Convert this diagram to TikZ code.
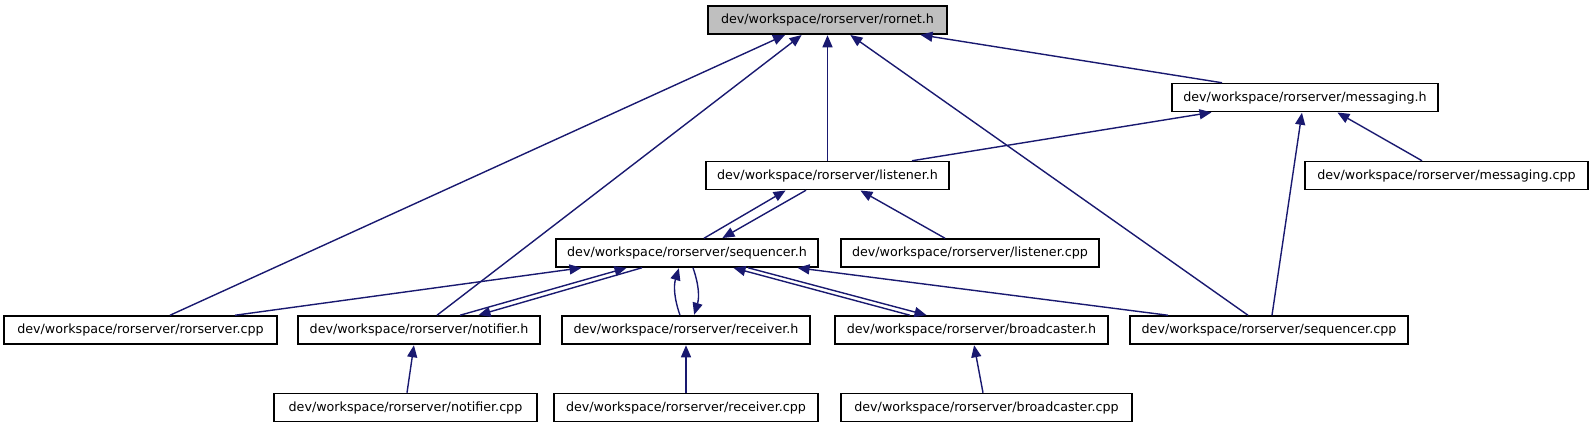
\documentclass[tikz,border=0pt]{standalone}
\usepackage{fontspec}
\setmainfont{DejaVu Sans}
\usetikzlibrary{arrows.meta}
\definecolor{edgeblue}{HTML}{191970}
\definecolor{rootgray}{HTML}{BFBFBF}
\begin{document}
\begin{tikzpicture}[x=1pt,y=-1pt,
  box/.style={draw=black,line width=1.5pt,fill=white,minimum height=28pt,inner sep=0pt,
    font=\fontsize{12.7}{15}\selectfont,anchor=center},
  root/.style={box,fill=rootgray},
  dep/.style={draw=edgeblue,line width=1.4pt,-{Triangle[length=12pt,width=10pt]},shorten >=0.5pt}]
\useasboundingbox (0,0) rectangle (1591,426);
% row 1
\node[root,minimum width=239pt] (rornet) at (827.5,20) {dev/workspace/rorserver/rornet.h};
% row 2
\node[box,minimum width=266pt] (messh) at (1305,97.5) {dev/workspace/rorserver/messaging.h};
% row 3
\node[box,minimum width=243pt] (listh) at (827.5,175.5) {dev/workspace/rorserver/listener.h};
\node[box,minimum width=283pt] (messcpp) at (1446.5,175.5) {dev/workspace/rorserver/messaging.cpp};
% row 4
\node[box,minimum width=262pt] (seqh) at (687,253) {dev/workspace/rorserver/sequencer.h};
\node[box,minimum width=258pt] (listcpp) at (970,253) {dev/workspace/rorserver/listener.cpp};
% row 5
\node[box,minimum width=273pt] (rorcpp) at (140.5,330) {dev/workspace/rorserver/rorserver.cpp};
\node[box,minimum width=242pt] (notih) at (419,330) {dev/workspace/rorserver/notifier.h};
\node[box,minimum width=248pt] (recvh) at (686,330) {dev/workspace/rorserver/receiver.h};
\node[box,minimum width=273pt] (broadh) at (971.5,330) {dev/workspace/rorserver/broadcaster.h};
\node[box,minimum width=278pt] (seqcpp) at (1269,330) {dev/workspace/rorserver/sequencer.cpp};
% row 6
\node[box,minimum width=263pt] (noticpp) at (405.5,407.5) {dev/workspace/rorserver/notifier.cpp};
\node[box,minimum width=264pt] (recvcpp) at (686,407.5) {dev/workspace/rorserver/receiver.cpp};
\node[box,minimum width=291pt] (broadcpp) at (986.5,407.5) {dev/workspace/rorserver/broadcaster.cpp};

% edges to rornet.h
\draw[dep] ([xshift=29.5pt]rorcpp.north) -- ([xshift=-42pt]rornet.south);
\draw[dep] ([xshift=18pt]notih.north) -- ([xshift=-25.5pt]rornet.south);
\draw[dep] (listh.north) -- (rornet.south);
\draw[dep] ([xshift=-21pt]seqcpp.north) -- ([xshift=22.5pt]rornet.south);
\draw[dep] ([xshift=-83pt]messh.north) -- ([xshift=92.5pt]rornet.south);
% edges to messaging.h
\draw[dep] ([xshift=84.5pt]listh.north) -- ([xshift=-93pt]messh.south);
\draw[dep] ([xshift=3pt]seqcpp.north) -- ([xshift=-3pt]messh.south);
\draw[dep] ([xshift=-24.5pt]messcpp.north) -- ([xshift=32pt]messh.south);
% listener.h <-> sequencer.h
\draw[dep] ([xshift=17pt]seqh.north) -- ([xshift=-41.5pt]listh.south);
\draw[dep] ([xshift=-21.5pt]listh.south) -- ([xshift=35pt]seqh.north);
\draw[dep] ([xshift=-25pt]listcpp.north) -- ([xshift=32.5pt]listh.south);
% edges to sequencer.h
\draw[dep] ([xshift=94.5pt]rorcpp.north) -- ([xshift=-105pt]seqh.south);
\draw[dep] ([xshift=41pt]notih.north) -- ([xshift=-60pt]seqh.south);
\draw[dep] ([xshift=-45pt]seqh.south) -- ([xshift=59pt]notih.north);
\draw[dep] ([xshift=-6pt]recvh.north) to[bend left=18] ([xshift=-8pt]seqh.south);
\draw[dep] ([xshift=6pt]seqh.south) to[bend left=18] ([xshift=8pt]recvh.north);
\draw[dep] ([xshift=-61.5pt]broadh.north) -- ([xshift=46pt]seqh.south);
\draw[dep] ([xshift=61pt]seqh.south) -- ([xshift=-44.5pt]broadh.north);
\draw[dep] ([xshift=-101pt]seqcpp.north) -- ([xshift=110pt]seqh.south);
% bottom row
\draw[dep] ([xshift=1.5pt]noticpp.north) -- ([xshift=-5pt]notih.south);
\draw[dep] (recvcpp.north) -- (recvh.south);
\draw[dep] ([xshift=-3.5pt]broadcpp.north) -- ([xshift=2.5pt]broadh.south);
\end{tikzpicture}
\end{document}
